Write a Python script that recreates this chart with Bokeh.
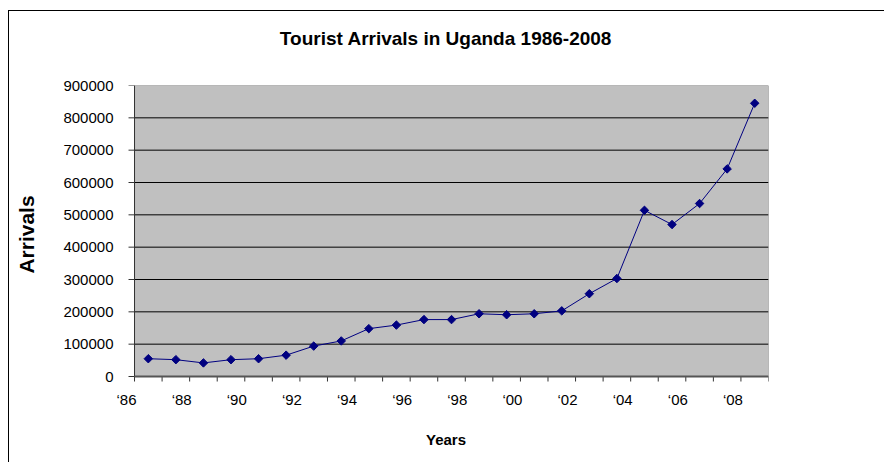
import numpy as np
from bokeh.plotting import figure
from bokeh.models import Range1d, FixedTicker, ColumnDataSource, LinearAxis
from bokeh.embed import file_html
from bokeh.resources import INLINE

years = list(range(1986, 2009))
arrivals = [55000, 52000, 42000, 52000, 55000, 66000, 94000, 110000, 148000, 159000,
            176000, 176000, 194000, 191000, 194000, 203000, 256000, 303000, 514000,
            470000, 535000, 642000, 845000]
x_tick_labels = ["\u201886", "\u201888", "\u201890", "\u201892", "\u201894", "\u201896",
                 "\u201898", "\u201800", "\u201802", "\u201804", "\u201806", "\u201808"]
y_ticks = [0, 100000, 200000, 300000, 400000, 500000, 600000, 700000, 800000, 900000]
title_text = "Tourist Arrivals in Uganda 1986-2008"

FONT = "Liberation Sans"
N = len(years)
Y_MAX = 900000

# pixel geometry of the plotting area (category axis of N slots)
PX_PER_X = 634 / N          # px per category
PX_PER_Y = 291 / Y_MAX      # px per arrival
X_PAD = 0.4                 # room left of the plot area for shifted year labels
Y_PAD = 7 / PX_PER_Y        # room under the plot area for tick marks
LABEL_SHIFT = -8 / PX_PER_X  # year labels sit a little left of their tick
YTICK_LEN = 6 / PX_PER_X
XTICK_LEN = 5 / PX_PER_Y

xs = [i + 0.5 for i in range(N)]

p = figure(width=876, height=452, output_backend="svg", toolbar_location=None,
           x_range=Range1d(-X_PAD, N), y_range=Range1d(-Y_PAD, Y_MAX),
           min_border_left=114, min_border_right=117, min_border_top=74,
           min_border_bottom=80, title=None)
p.styles = {"margin-left": "8px", "margin-top": "10px",
            "border-left": "1px solid black", "border-top": "1px solid black"}

p.background_fill_color = "white"
p.border_fill_color = "white"
p.outline_line_color = None
p.xgrid.grid_line_color = None
p.ygrid.grid_line_color = None

# chart title, carried by an empty axis above the plot
top_axis = LinearAxis(ticker=FixedTicker(ticks=[]), axis_line_color=None,
                      major_tick_line_color=None, minor_tick_line_color=None,
                      major_tick_out=0, major_tick_in=0, major_label_standoff=0,
                      axis_label=title_text, axis_label_text_font=FONT,
                      axis_label_text_font_size="19px", axis_label_text_font_style="bold",
                      axis_label_text_color="black", axis_label_standoff=37)
p.add_layout(top_axis, "above")

# y axis: labels only (lines drawn below as glyphs)
p.yaxis.ticker = FixedTicker(ticks=y_ticks)
p.yaxis.major_label_overrides = {t: str(t) for t in y_ticks}
p.yaxis.major_label_text_font = FONT
p.yaxis.major_label_text_font_size = "15px"
p.yaxis.major_label_text_color = "black"
p.yaxis.major_tick_out = 0
p.yaxis.major_tick_in = 0
p.yaxis.major_tick_line_color = None
p.yaxis.minor_tick_line_color = None
p.yaxis.axis_line_color = None
p.yaxis.major_label_standoff = 10
p.yaxis.axis_label = "Arrivals"
p.yaxis.axis_label_text_font = FONT
p.yaxis.axis_label_text_font_size = "21px"
p.yaxis.axis_label_text_font_style = "bold"
p.yaxis.axis_label_text_color = "black"
p.yaxis.axis_label_standoff = 22

# x axis: year labels only
label_pos = [2 * i + LABEL_SHIFT for i in range(len(x_tick_labels))]
xa = p.below[0]
xa.ticker = FixedTicker(ticks=label_pos)
xa.major_label_overrides = {pos: t for pos, t in zip(label_pos, x_tick_labels)}
xa.major_label_text_font = FONT
xa.major_label_text_font_size = "15px"
xa.major_label_text_color = "black"
xa.major_tick_out = 0
xa.major_tick_in = 0
xa.major_tick_line_color = None
xa.minor_tick_line_color = None
xa.axis_line_color = None
xa.major_label_standoff = 7
xa.axis_label = "Years"
xa.axis_label_text_font = FONT
xa.axis_label_text_font_size = "15px"
xa.axis_label_text_font_style = "bold"
xa.axis_label_text_color = "black"
xa.axis_label_standoff = 20

# plot area
p.quad(left=[0], right=[N], bottom=[0], top=[Y_MAX], fill_color="#C0C0C0",
       line_color="#808080", line_width=1)
grid_y = y_ticks[1:-1]
p.segment(x0=[0] * len(grid_y), x1=[N] * len(grid_y), y0=grid_y, y1=grid_y,
          line_color="black", line_width=1)
# y axis line and ticks
p.segment(x0=[0], x1=[0], y0=[0], y1=[Y_MAX], line_color="#333333", line_width=1)
p.segment(x0=[-YTICK_LEN] * len(y_ticks), x1=[0] * len(y_ticks), y0=y_ticks, y1=y_ticks,
          line_color="#333333", line_width=1)
# x axis line and ticks
xt = list(range(N + 1))
p.segment(x0=xt, x1=xt, y0=[0] * len(xt), y1=[-XTICK_LEN] * len(xt),
          line_color="#333333", line_width=1)
p.segment(x0=[0], x1=[N], y0=[0], y1=[0], line_color="#555555", line_width=2)

src = ColumnDataSource(dict(x=xs, y=arrivals))
p.line("x", "y", source=src, line_color="#000080", line_width=1)
p.scatter("x", "y", source=src, marker="square", angle=np.pi / 4, size=6,
          fill_color="#000080", line_color="#000080")

open("out.html", "w").write(file_html(p, INLINE))
